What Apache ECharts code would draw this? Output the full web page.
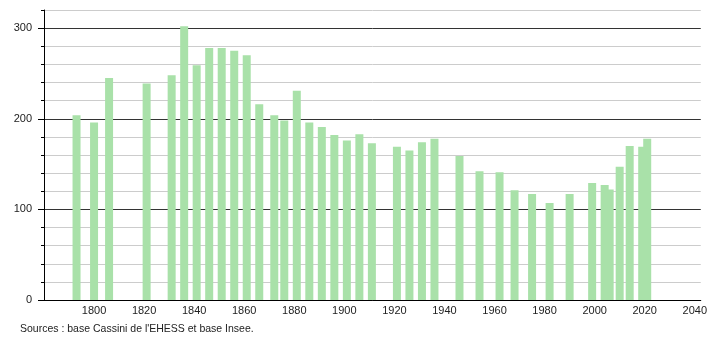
<!DOCTYPE html>
<html>
<head>
<meta charset="utf-8">
<script src="https://cdn.jsdelivr.net/npm/echarts@6/dist/echarts.min.js"></script>
<style>
html,body{margin:0;padding:0;background:#fff;}
#chart{width:710px;height:340px;}
</style>
</head>
<body>
<div id="chart"></div>
<script>
var years = [1793,1800,1806,1821,1831,1836,1841,1846,1851,1856,1861,1866,1872,1876,1881,1886,1891,1896,1901,1906,1911,1921,1926,1931,1936,1946,1954,1962,1968,1975,1982,1990,1999,2004,2006,2010,2014,2019,2021];
var population = [204,196,245,239,248,302,259,278,278,275,270,216,204,198,231,196,191,182,176,183,173,169,165,174,178,159,142,141,121,117,107,117,129,127,122,147,170,169,178];
var xTickLabels = [1800,1820,1840,1860,1880,1900,1920,1940,1960,1980,2000,2020,2040];
var yTickLabels = [0,100,200,300];
var sourceText = "Sources : base Cassini de l'EHESS et base Insee.";

var data = years.map(function(y, i){ return [y, population[i]]; });
var font = '"Liberation Sans", Arial, sans-serif';

var chart = echarts.init(document.getElementById('chart'), null, {renderer:'canvas'});
chart.setOption({
  animation: false,
  backgroundColor: '#ffffff',
  grid: {left: 44, right: 9, top: 10, bottom: 40, containLabel: false},
  xAxis: {
    type: 'value',
    min: 1780, max: 2042.4, interval: 20,
    axisLine: {show: true, lineStyle: {color: '#000', width: 1}},
    axisTick: {show: false},
    splitLine: {show: false},
    axisLabel: {
      margin: 5,
      color: '#222', fontSize: 11, fontFamily: font,
      formatter: function(v){ return xTickLabels.indexOf(v) >= 0 ? String(v) : ''; }
    }
  },
  yAxis: [{
    type: 'value', min: 0, max: 320, interval: 20,
    axisLine: {show: true, lineStyle: {color: '#000', width: 1}},
    axisTick: {show: true, length: 3, lineStyle: {color: '#000'}},
    splitLine: {show: true, lineStyle: {color: ['#333333','#cccccc','#cccccc','#cccccc','#cccccc'], width: 1}},
    axisLabel: {
      margin: 12, color: '#222', fontSize: 11, fontFamily: font,
      formatter: function(v){ return yTickLabels.indexOf(v) >= 0 ? String(v) : ''; }
    }
  }, {
    type: 'value', min: 0, max: 320, interval: 100,
    position: 'left',
    axisLine: {show: false},
    axisTick: {show: true, length: 6, customValues: yTickLabels, lineStyle: {color: '#000'}},
    splitLine: {show: false},
    axisLabel: {show: false}
  }],
  series: [{
    type: 'bar',
    yAxisIndex: 0,
    data: data,
    barWidth: 8,
    itemStyle: {color: '#a9e1a9'},
    z: 3
  }],
  graphic: [{
    type: 'text', left: 20, top: 324,
    style: {text: sourceText, fill: '#222', font: '10.5px ' + font}
  }]
});
</script>
</body>
</html>
